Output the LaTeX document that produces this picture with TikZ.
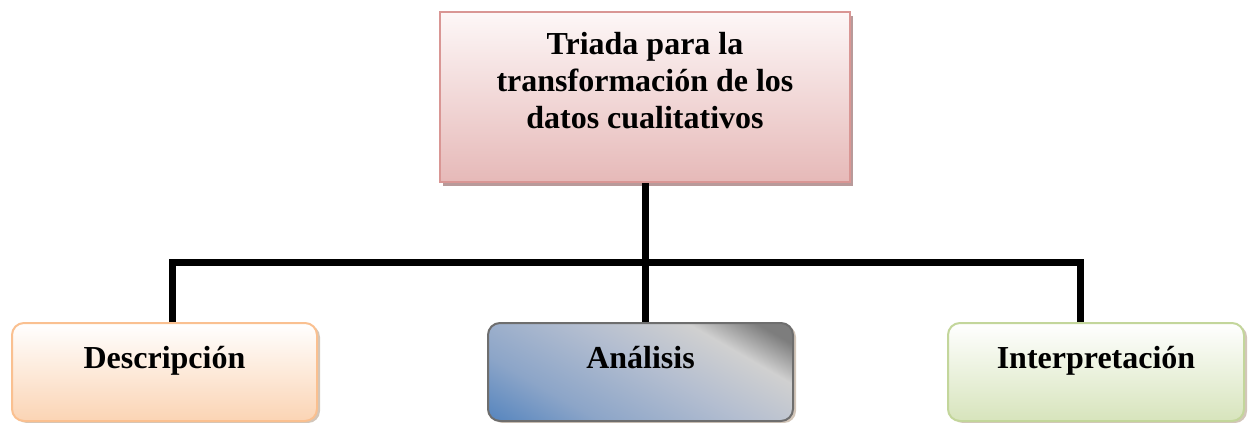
\documentclass[tikz,border=0pt]{standalone}
\usepackage{fontspec}
\setmainfont{Liberation Serif}
\usetikzlibrary{shadows}
\definecolor{topBorder}{HTML}{D99694}
\definecolor{topFillT}{HTML}{FDF7F7}
\definecolor{topFillB}{HTML}{E6B9B8}
\definecolor{topShadow}{HTML}{B89A9A}
\definecolor{desBorder}{HTML}{FAC090}
\definecolor{desFillB}{HTML}{FBD4B4}
\definecolor{intBorder}{HTML}{C3D69B}
\definecolor{intFillB}{HTML}{D7E4BC}
\definecolor{anaBorder}{HTML}{6E6E6E}
\definecolor{anaBlue}{RGB}{79,129,189}
\definecolor{anaMidA}{RGB}{140,165,200}
\definecolor{anaMidB}{RGB}{180,190,208}
\definecolor{anaLight}{RGB}{208,208,208}
\definecolor{anaDark}{RGB}{125,125,125}
\definecolor{boxShadow}{HTML}{C8B8A8}
\pgfdeclareverticalshading{anashade}{100bp}{color(0bp)=(anaBlue); color(14bp)=(anaBlue); color(32bp)=(anaMidA); color(53bp)=(anaMidB); color(69bp)=(anaLight); color(79bp)=(anaDark); color(100bp)=(anaDark)}
\begin{document}
\begin{tikzpicture}[x=0.5pt,y=-0.5pt,
  every node/.style={font=\fontsize{16}{18.5}\selectfont\bfseries},
  topbox/.style={draw=topBorder, line width=1pt, top color=topFillT, bottom color=topFillB,
    minimum width=205pt, minimum height=85pt, inner sep=0pt,
    drop shadow={shadow xshift=1.5pt, shadow yshift=-2pt, fill=topShadow, opacity=1}},
  leafbox/.style={rounded corners=6pt, line width=1pt, minimum height=49pt, inner sep=0pt,
    text height=11pt, text depth=15pt,
    drop shadow={shadow xshift=1.5pt, shadow yshift=-1pt, fill=boxShadow, opacity=0.8}},
  conn/.style={line width=3.5pt, line join=miter, line cap=butt}
]
\useasboundingbox (0,0) rectangle (1249,423);
\node[topbox] (top) at (645,97) {\parbox[c][65pt][t]{205pt}{\centering Triada para la\\ transformación de los\\ datos cualitativos}};
\node[leafbox, draw=desBorder, top color=white, bottom color=desFillB, minimum width=152.5pt] (desc) at (164.5,372) {Descripción};
\node[leafbox, draw=anaBorder, shading=anashade, shading angle=-30, minimum width=152.5pt] (ana) at (640.5,372) {Análisis};
\node[leafbox, draw=intBorder, top color=white, bottom color=intFillB, minimum width=148pt] (inter) at (1096,372) {Interpretación};
\coordinate (hl) at (172,262);
\coordinate (hr) at (1080,262);
\draw[conn] (top.south) -- (top.south |- ana.north);
\draw[conn] (desc.north -| hl) |- (hr) -- (hr |- inter.north);
\end{tikzpicture}
\end{document}
